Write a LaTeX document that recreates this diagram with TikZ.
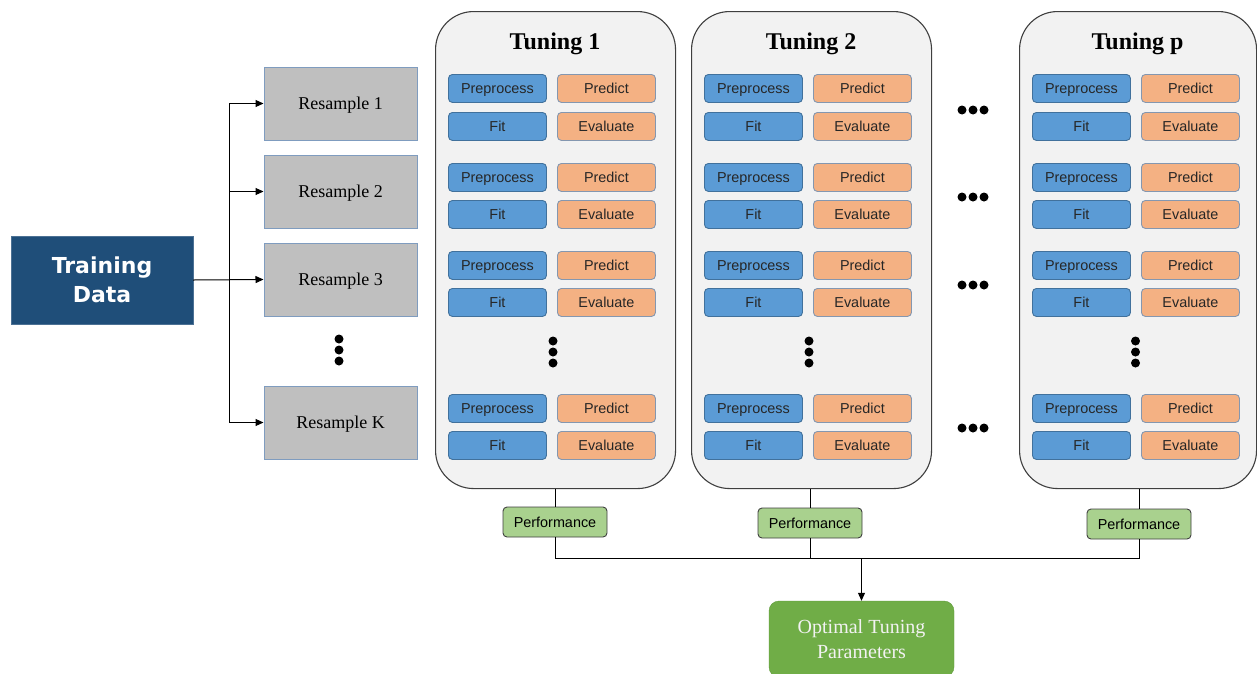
\documentclass[tikz,border=0pt]{standalone}
\usepackage{fontspec}
\setmainfont{Liberation Serif}
\newfontfamily\arialf{Liberation Sans}
\newfontfamily\dvsf{DejaVu Sans}
\usetikzlibrary{arrows.meta}
\definecolor{tdblue}{HTML}{1F4E79}
\definecolor{rsfill}{HTML}{BFBFBF}
\definecolor{rsborder}{HTML}{7F9CBF}
\definecolor{boxblue}{HTML}{5B9BD5}
\definecolor{blueborder}{HTML}{41719C}
\definecolor{boxorange}{HTML}{F4B183}
\definecolor{orangeborder}{HTML}{8497B0}
\definecolor{perffill}{HTML}{A9D18E}
\definecolor{optfill}{HTML}{70AD47}
\definecolor{optborder}{HTML}{5E9A3A}
\definecolor{panelfill}{HTML}{F2F2F2}
\definecolor{panelborder}{HTML}{3F3F3F}
\tikzset{
  panel/.style={draw=panelborder, fill=panelfill, rounded corners=38pt, line width=1.1pt, anchor=north west, inner sep=0pt},
  ptitle/.style={font=\bfseries\fontsize{24}{26}\selectfont, inner sep=0pt},
  smallbox/.style={rounded corners=4pt, minimum width=98pt, minimum height=28pt, inner sep=0pt, text height=10pt, text depth=0pt, anchor=north west, font=\arialf\fontsize{14.4}{16}\selectfont, text=black!85, line width=0.9pt},
  bluebox/.style={smallbox, draw=blueborder, fill=boxblue},
  orangebox/.style={smallbox, draw=orangeborder, fill=boxorange},
  resbox/.style={draw=rsborder, fill=rsfill, minimum width=153pt, minimum height=73pt, inner sep=0pt, text height=12pt, text depth=0pt, font=\fontsize{18}{20}\selectfont, line width=1pt},
  perfbox/.style={draw=panelborder, fill=perffill, rounded corners=4pt, minimum width=104pt, minimum height=30pt, inner sep=0pt, text height=10pt, text depth=0pt, font=\arialf\fontsize{14.4}{16}\selectfont, line width=0.9pt},
  conn/.style={draw=black, line width=1pt},
  arr/.style={conn, -{Triangle[length=8pt,width=7pt]}},
  dotc/.style={fill=black},
}
\begin{document}
\begin{tikzpicture}[x=1pt,y=-1pt]
\useasboundingbox (0,0) rectangle (1257,673);
% Training data
\node[fill=tdblue, draw=tdblue!80, minimum width=182pt, minimum height=88pt, inner sep=0pt,
      text=white, align=center, font=\dvsf\bfseries\fontsize{22}{29}\selectfont] (td) at (102,280) {Training\\Data};
% Resamples
\node[resbox] (r1) at (340.5,103.5) {Resample 1};
\node[resbox] (r2) at (340.5,191.5) {Resample 2};
\node[resbox] (r3) at (340.5,279.5) {Resample 3};
\node[resbox] (rk) at (340.5,422.5) {Resample K};
\foreach \yy in {339,350,361} \fill[dotc] (339,\yy) circle (4.5);
\coordinate (tk) at (229,279.5);
\draw[arr] (td.east) -- (r3.west);
\draw[arr] (tk) |- (r1.west);
\draw[arr] (tk) |- (r2.west);
\draw[arr] (tk) |- (rk.west);
% Panels
\foreach \n/\x/\w/\t in {1/435/240/Tuning 1, 2/691/240/Tuning 2, p/1019/237/Tuning p}{
  \node[panel, minimum width=\w pt, minimum height=477pt] (T\n) at (\x,11) {};
  \node[ptitle] (title\n) at (\x+\w/2,44) {\t};
  \foreach \g/\ya/\yb in {a/74/112, b/163/200, c/251/288, d/394/431}{
    \node[bluebox] (pre\n\g) at (\x+13,\ya) {Preprocess};
    \node[orangebox] (prd\n\g) at (\x+122,\ya) {Predict};
    \node[bluebox] (fit\n\g) at (\x+13,\yb) {Fit};
    \node[orangebox] (evl\n\g) at (\x+122,\yb) {Evaluate};
  }
  \foreach \yy in {341,352,363} \fill[dotc] (\x+\w/2-2,\yy) circle (4.5);
}
% horizontal dots
\foreach \yy in {110,197,285,428}
  \foreach \xx in {962,973,984} \fill[dotc] (\xx,\yy) circle (4.5);
% Performance
\node[perfbox] (perf1) at (555,522) {Performance};
\node[perfbox] (perf2) at (810,523) {Performance};
\node[perfbox] (perfp) at (1139,524) {Performance};
\draw[conn] (perf1.north) -- (perf1.north |- T1.south);
\draw[conn] (perf2.north) -- (perf2.north |- T2.south);
\draw[conn] (perfp.north) -- (perfp.north |- Tp.south);
% Optimal
\node[draw=optborder, fill=optfill, rounded corners=10pt, minimum width=185pt, minimum height=76pt,
      inner sep=0pt, align=center, text=white!95!black, font=\fontsize{20}{25}\selectfont] (opt) at (861.5,639) {Optimal Tuning\\Parameters};
\coordinate (j) at (861.5,558);
\draw[conn] (perf1.south) |- (j);
\draw[conn] (perfp.south) |- (j);
\draw[conn] (perf2.south) -- (perf2.south |- j);
\draw[arr] (j) -- (opt.north);
\end{tikzpicture}
\end{document}
